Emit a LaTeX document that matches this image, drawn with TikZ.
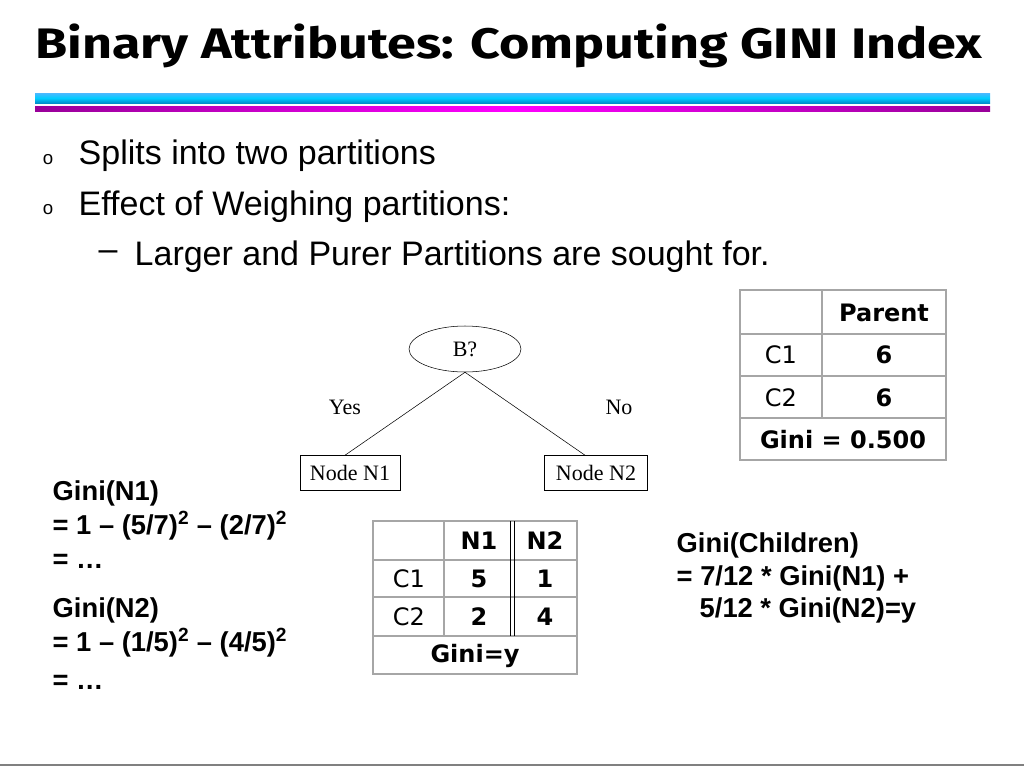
\documentclass[tikz,border=0pt]{standalone}
\usepackage{fontspec}
\usetikzlibrary{shapes.geometric}
\setmainfont{Liberation Sans}
\newfontfamily\titlef{Fira Sans}
\newfontfamily\tabf{DejaVu Sans}
\newfontfamily\serf{Liberation Serif}
\begin{document}
\begin{tikzpicture}[x=0.75pt,y=-0.75pt,
  tl/.style={font=\tabf\fontsize{18}{20}\selectfont},
  tb/.style={font=\tabf\bfseries\fontsize{18}{20}\selectfont},
  bt/.style={anchor=west,font=\fontsize{25.5}{28}\selectfont},
  gt/.style={anchor=west,font=\bfseries\fontsize{20.5}{23}\selectfont},
  sr/.style={font=\serf\fontsize{16.5}{18}\selectfont},
  grid/.style={draw=gray!70,line width=0.8pt}]
\useasboundingbox (0,0) rectangle (1024,768);
\fill[white] (0,0) rectangle (1024,768);
\node[font=\titlef\bfseries\fontsize{32}{36}\selectfont,xscale=1.22,transform shape] (title) at (509,46) {Binary Attributes: Computing GINI Index};
\shade[top color=cyan!60!blue!70!white,bottom color=cyan!70!blue!80!black,middle color=cyan!80!blue] (35,93) rectangle (990,103);
\shade[left color=violet!80!magenta,right color=violet!80!magenta,middle color=magenta] (35,106) rectangle (990,111);
\node[font=\fontsize{14}{16}\selectfont] (o1) at (48,160) {o};
\node[bt] (b1) at (74,156) {Splits into two partitions};
\node[font=\fontsize{14}{16}\selectfont] (o2) at (48,210) {o};
\node[bt] (b2) at (74,207) {Effect of Weighing partitions:};
\node[bt] (d3) at (94,256) {–};
\node[bt] (b3) at (130,257) {Larger and Purer Partitions are sought for.};
% parent table
\draw[grid] (740,290) rectangle (946,460);
\draw[grid] (740,334) -- (946,334) (740,376) -- (946,376) (740,418) -- (946,418) (822,290) -- (822,418);
\node[tb] (ph) at (884,313) {Parent};
\node[tl] (pc1) at (781,355) {C1};
\node[tb] (p6a) at (884,355) {6};
\node[tl] (pc2) at (781,398) {C2};
\node[tb] (p6b) at (884,398) {6};
\node[tb] (pg) at (843,440) {Gini = 0.500};
% tree
\node[draw,ellipse,minimum width=112*0.75pt,minimum height=46*0.75pt,inner sep=0pt,sr] (B) at (465,349) {B?};
\node[draw,sr,minimum width=100*0.75pt,minimum height=35*0.75pt,inner sep=1pt] (n1) at (350,473) {Node N1};
\node[draw,sr,minimum width=103*0.75pt,minimum height=35*0.75pt,inner sep=1pt] (n2) at (596,473) {Node N2};
\draw (B.south) -- (n1.north -| 345,0);
\draw (B.south) -- (n2.north -| 585,0);
\node[sr] (yes) at (345,407) {Yes};
\node[sr] (no) at (619,407) {No};
% children table
\draw[grid] (373,521) rectangle (577,674);
\draw[grid] (373,560) -- (577,560) (373,597) -- (577,597) (373,636) -- (577,636) (444,521) -- (444,636);
\draw[line width=0.8pt] (510.5,521) -- (510.5,636) (514.5,521) -- (514.5,636);
\node[tb] (hn1) at (479,541) {N1};
\node[tb] (hn2) at (545,541) {N2};
\node[tl] (cc1) at (409,579) {C1};
\node[tb] (c5) at (479,579) {5};
\node[tb] (c1) at (545,579) {1};
\node[tl] (cc2) at (409,617) {C2};
\node[tb] (c2) at (479,617) {2};
\node[tb] (c4) at (545,617) {4};
\node[tb] (cg) at (475,656) {Gini=y};
% left text
\node[gt] (l1) at (48,493) {Gini(N1)};
\node[gt] (l2) at (48,526) {= 1 – (5/7)\textsuperscript{2} – (2/7)\textsuperscript{2}};
\node[gt] (l3) at (48,561) {= …};
\node[gt] (l4) at (48,610) {Gini(N2)};
\node[gt] (l5) at (48,643) {= 1 – (1/5)\textsuperscript{2} – (4/5)\textsuperscript{2}};
\node[gt] (l6) at (48,682) {= …};
% right text
\node[gt] (r1) at (672,545) {Gini(Children)};
\node[gt] (r2) at (672,578) {= 7/12 * Gini(N1) +};
\node[gt] (r3) at (695,610) {5/12 * Gini(N2)=y};
\draw[gray,line width=1pt] (0,765) -- (1024,765);
\end{tikzpicture}
\end{document}
